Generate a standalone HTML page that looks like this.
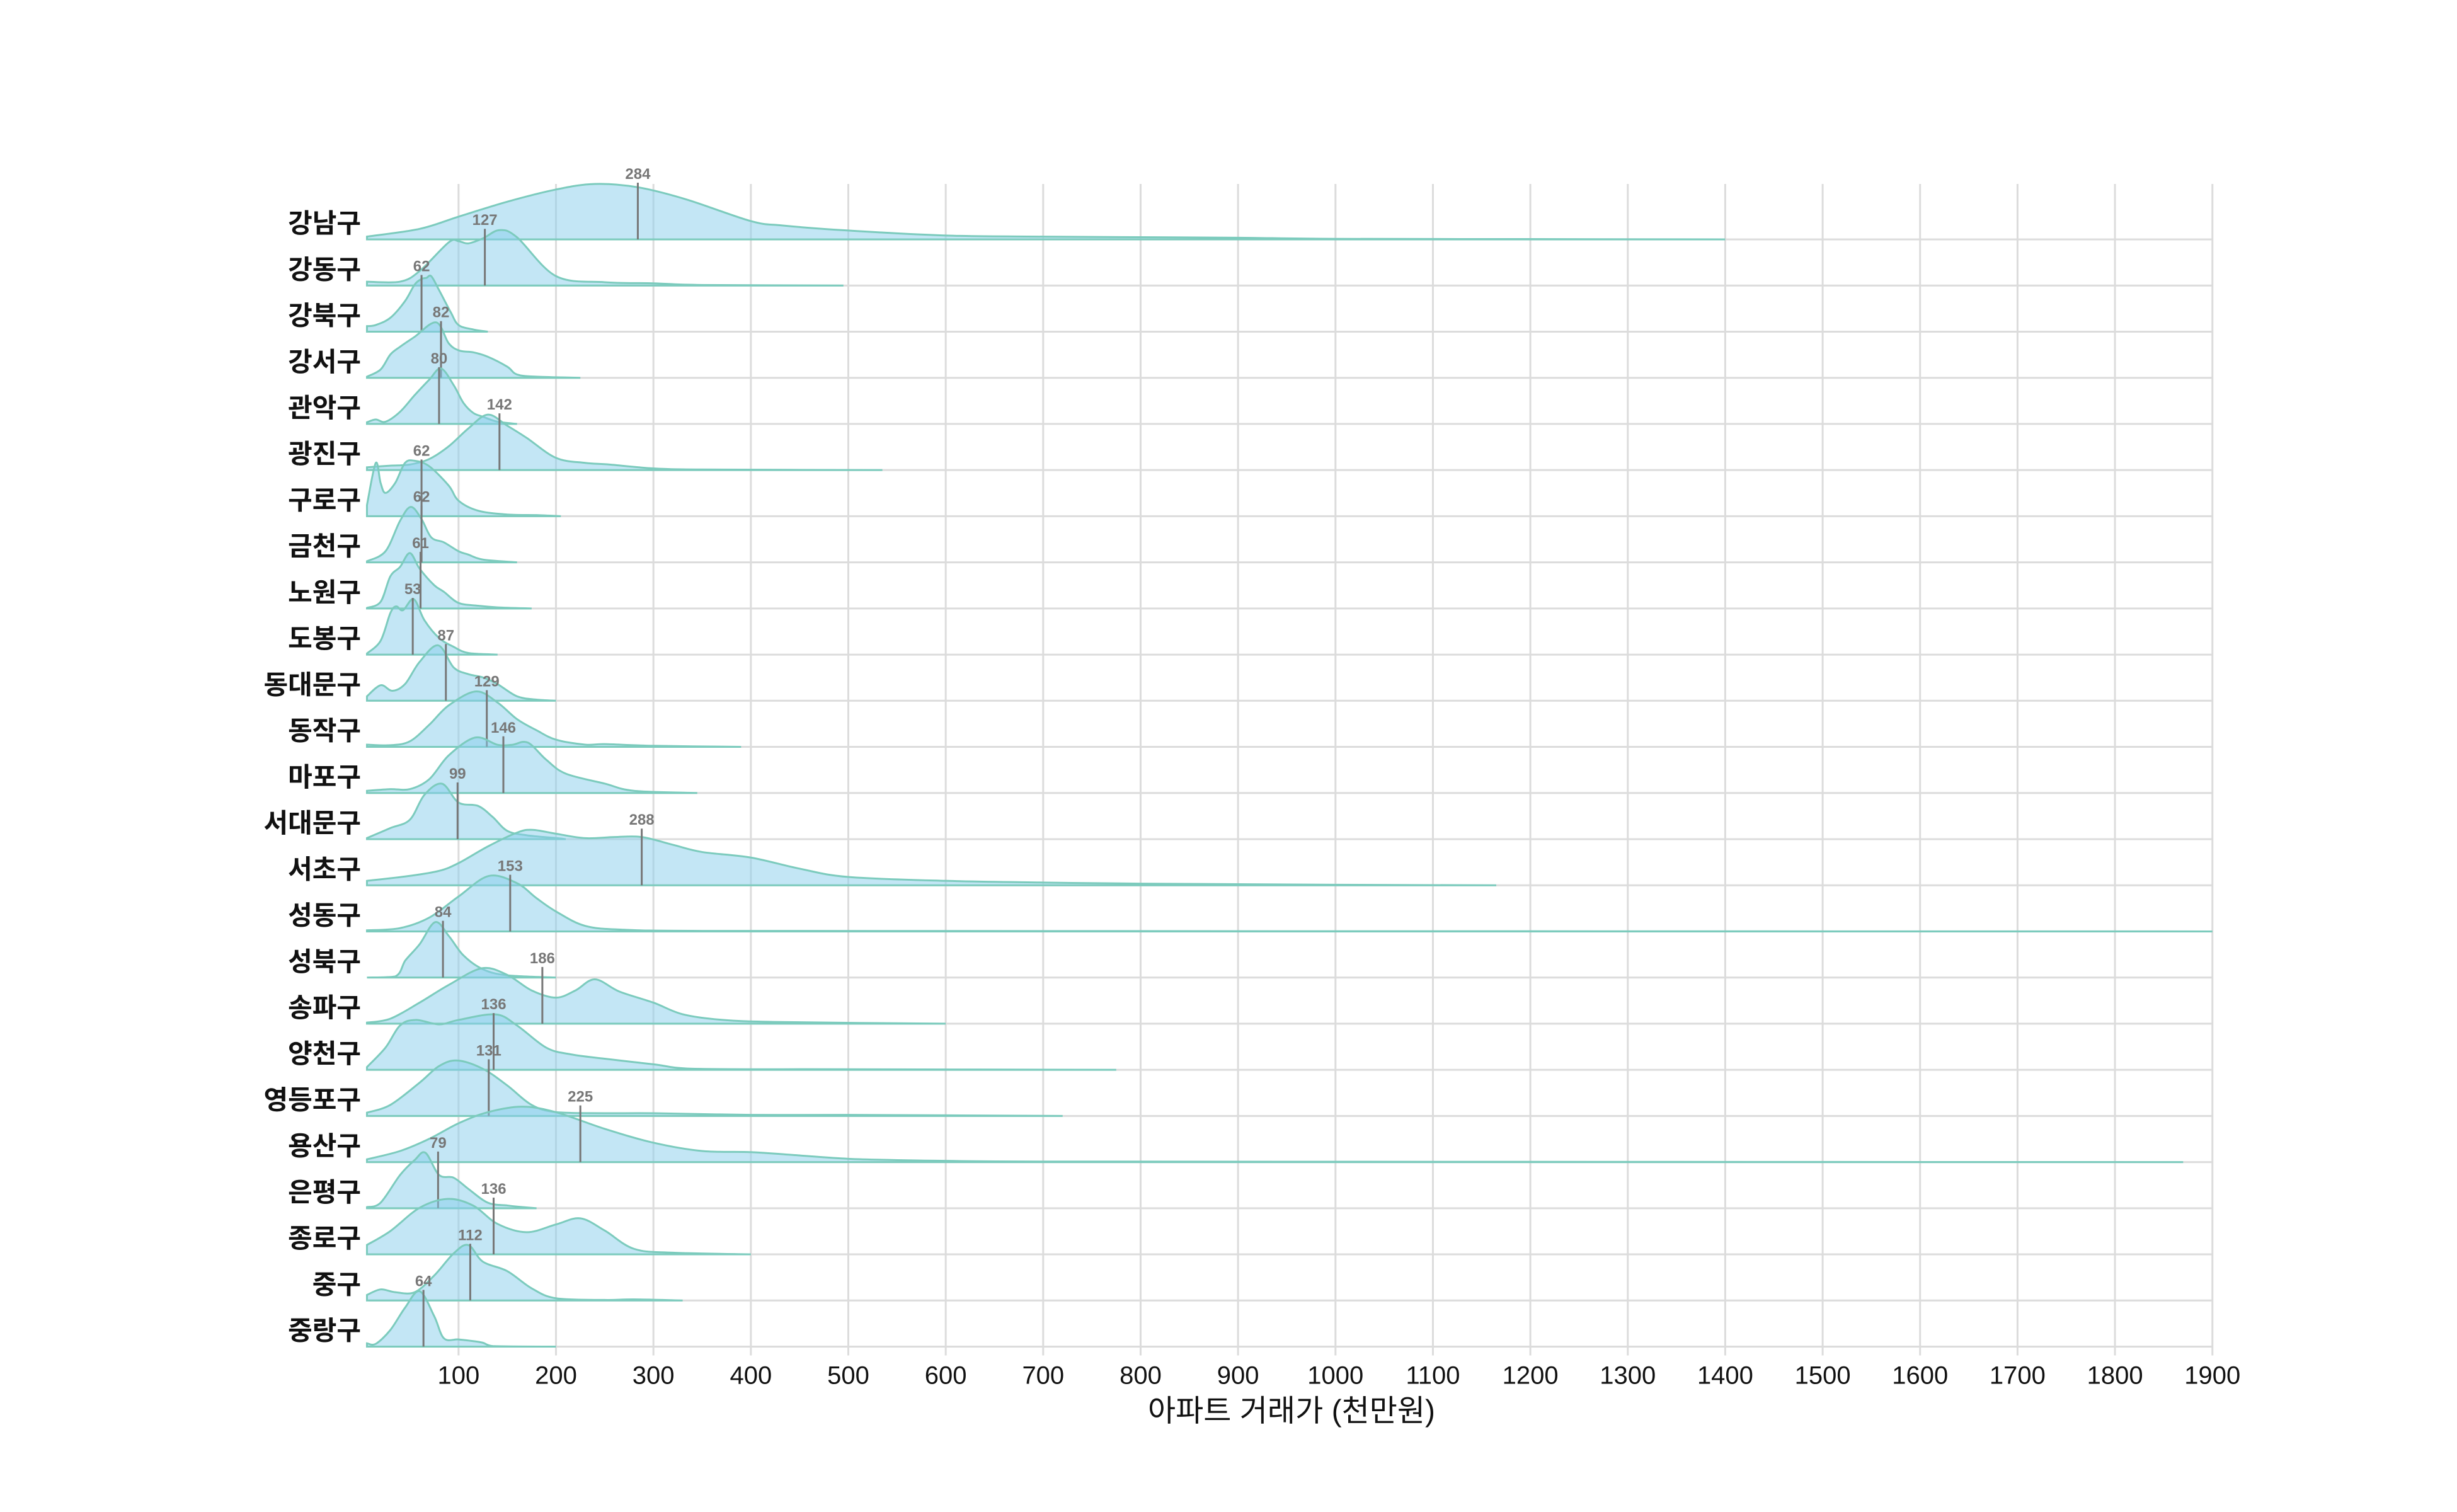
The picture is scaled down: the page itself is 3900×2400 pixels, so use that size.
<!DOCTYPE html>
<html><head><meta charset="utf-8">
<style>
html,body{margin:0;padding:0;background:#fff;}
svg{display:block;font-family:"Liberation Sans","Noto Sans CJK KR",sans-serif;}
</style></head>
<body>
<svg id="chart" width="3900" height="2400" viewBox="0 0 3900 2400" xmlns="http://www.w3.org/2000/svg">
<g id="grid"></g>
<g id="ridges"></g>
<g id="ylabels"></g>
<g id="xticks"></g>
<text x="2050" y="2243" font-size="48" text-anchor="middle" dominant-baseline="middle" fill="#111">아파트 거래가 (천만원)</text>
</svg>
<script>
const districts = ["강남구","강동구","강북구","강서구","관악구","광진구","구로구","금천구","노원구","도봉구","동대문구","동작구","마포구","서대문구","서초구","성동구","성북구","송파구","양천구","영등포구","용산구","은평구","종로구","중구","중랑구"];
const medians = [284,127,62,82,80,142,62,62,61,53,87,129,146,99,288,153,84,186,136,131,225,79,136,112,64];
const xTicks = [100,200,300,400,500,600,700,800,900,1000,1100,1200,1300,1400,1500,1600,1700,1800,1900];
// density curves: [value, relative height]
const d0 = [[6,0.05],[60,0.19],[100,0.41],[150,0.68],[200,0.9],[240,1.0],[284,0.94],[334,0.72],[400,0.33],[433,0.25],[500,0.16],[600,0.07],[700,0.05],[800,0.04],[900,0.03],[1000,0.01],[1200,0.005],[1400,0]];
const d1 = [[6,0.07],[40,0.07],[60,0.26],[90,0.78],[100,0.8],[110,0.76],[125,0.85],[142,1.0],[160,0.87],[200,0.17],[250,0.06],[300,0.04],[350,0.01],[495,0]];
const d2 = [[6,0.1],[15,0.12],[30,0.25],[45,0.55],[55,0.85],[62,0.95],[67,0.97],[72,1.0],[80,0.75],[92,0.35],[100,0.12],[115,0.04],[130,0]];
const d3 = [[6,0.02],[20,0.15],[30,0.42],[40,0.56],[55,0.74],[77,1.0],[90,0.62],[101,0.49],[115,0.46],[130,0.38],[150,0.2],[160,0.06],[180,0.02],[225,0]];
const d4 = [[6,0.03],[15,0.08],[25,0.04],[40,0.22],[55,0.52],[70,0.8],[82,1.0],[95,0.7],[105,0.38],[115,0.2],[125,0.13],[140,0.04],[160,0]];
const d5 = [[6,0.05],[30,0.08],[50,0.1],[70,0.2],[90,0.43],[110,0.75],[130,1.0],[150,0.8],[170,0.58],[200,0.22],[230,0.13],[255,0.1],[300,0.03],[350,0.01],[535,0]];
const d6 = [[6,0.2],[15,0.96],[20,0.6],[25,0.42],[35,0.6],[45,0.96],[55,1.0],[70,0.9],[90,0.55],[100,0.28],[120,0.1],[150,0.03],[180,0.02],[205,0]];
const d7 = [[6,0.02],[25,0.2],[40,0.75],[51,1.0],[62,0.78],[72,0.45],[85,0.36],[100,0.2],[110,0.14],[125,0.05],[160,0]];
const d8 = [[6,0.01],[20,0.12],[30,0.58],[40,0.75],[50,1.0],[60,0.72],[75,0.42],[85,0.3],[100,0.1],[120,0.05],[140,0.02],[175,0]];
const d9 = [[6,0.02],[20,0.25],[30,0.75],[36,0.87],[43,0.8],[54,1.0],[65,0.62],[80,0.3],[95,0.14],[110,0.03],[140,0]];
const d10 = [[6,0.08],[20,0.28],[32,0.18],[45,0.3],[60,0.7],[79,1.0],[95,0.6],[110,0.48],[125,0.42],[140,0.3],[160,0.08],[180,0.02],[200,0]];
const d11 = [[6,0.04],[30,0.03],[50,0.1],[70,0.4],[90,0.75],[118,1.0],[140,0.8],[160,0.5],[180,0.3],[200,0.13],[230,0.04],[250,0.05],[300,0.02],[390,0]];
const d12 = [[6,0.04],[30,0.07],[50,0.07],[70,0.25],[90,0.68],[117,1.0],[140,0.87],[155,0.87],[171,0.91],[190,0.6],[210,0.35],[250,0.17],[280,0.04],[345,0]];
const d13 = [[6,0.02],[30,0.2],[50,0.35],[65,0.8],[83,1.0],[100,0.66],[120,0.6],[135,0.4],[150,0.15],[170,0.07],[200,0.02],[210,0]];
const d14 = [[6,0.08],[50,0.17],[80,0.26],[100,0.4],[130,0.7],[160,0.95],[176,1.0],[200,0.93],[230,0.85],[260,0.87],[288,0.87],[320,0.73],[350,0.6],[400,0.5],[450,0.3],[500,0.15],[600,0.08],[700,0.05],[800,0.03],[1000,0.01],[1165,0]];
const d15 = [[6,0.02],[40,0.06],[70,0.25],[100,0.63],[131,1.0],[160,0.87],[180,0.6],[200,0.36],[230,0.1],[270,0.03],[350,0.01],[1000,0.004],[1900,0]];
const d16 = [[6,0],[35,0.02],[45,0.3],[60,0.6],[76,1.0],[90,0.75],[105,0.4],[125,0.15],[150,0.04],[200,0]];
const d17 = [[6,0.02],[30,0.09],[60,0.38],[90,0.7],[124,1.0],[150,0.88],[175,0.6],[200,0.47],[220,0.6],[240,0.8],[265,0.58],[300,0.38],[330,0.17],[370,0.07],[430,0.03],[600,0]];
const d18 = [[6,0.05],[25,0.4],[40,0.8],[56,0.9],[80,0.82],[100,0.9],[138,1.0],[160,0.8],[190,0.4],[215,0.28],[250,0.2],[300,0.1],[340,0.02],[500,0.01],[775,0]];
const d19 = [[6,0.06],[30,0.2],[60,0.6],[80,0.9],[99,1.0],[125,0.85],[150,0.55],[175,0.2],[200,0.07],[250,0.05],[300,0.05],[400,0.02],[500,0.02],[720,0]];
const d20 = [[6,0.05],[40,0.2],[70,0.42],[100,0.7],[130,0.9],[165,1.0],[200,0.9],[250,0.6],[300,0.35],[350,0.2],[400,0.18],[450,0.12],[500,0.06],[570,0.03],[700,0.01],[1870,0]];
const d21 = [[6,0.02],[20,0.1],[40,0.6],[55,0.87],[66,1.0],[80,0.6],[95,0.55],[110,0.35],[130,0.1],[150,0.05],[160,0.03],[180,0]];
const d22 = [[6,0.17],[30,0.42],[60,0.84],[89,1.0],[115,0.88],[140,0.55],[170,0.4],[200,0.54],[225,0.65],[250,0.43],[280,0.1],[320,0.03],[400,0]];
const d23 = [[6,0.1],[20,0.2],[35,0.15],[55,0.15],[75,0.45],[95,0.85],[110,1.0],[125,0.7],[150,0.53],[175,0.22],[200,0.04],[250,0.01],[280,0.02],[330,0]];
const d24 = [[6,0.06],[15,0.05],[30,0.3],[45,0.7],[60,1.0],[75,0.55],[85,0.15],[100,0.13],[115,0.1],[125,0.07],[135,0.01],[200,0]];
const densities = [d0,d1,d2,d3,d4,d5,d6,d7,d8,d9,d10,d11,d12,d13,d14,d15,d16,d17,d18,d19,d20,d21,d22,d23,d24];

const NS = "http://www.w3.org/2000/svg";
const X0 = 573.2, XS = 1.5466, Y0 = 380, ROW = 73.23, RH = 88;
const xScale = v => X0 + v * XS;
const yBase = i => Y0 + i * ROW;
const mk = (tag, parent) => { const e = document.createElementNS(NS, tag); parent.appendChild(e); return e; };

const grid = document.getElementById('grid');
const plotLeft = 585, plotRight = xScale(1900), gridTop = 292, gridBottom = yBase(districts.length - 1);
xTicks.forEach(t => {
  const l = mk('line', grid);
  
  
  l.setAttribute('x1', xScale(t)); l.setAttribute('x2', xScale(t));
  l.setAttribute('y1', gridTop); l.setAttribute('y2', gridBottom + 14);
  l.setAttribute('stroke', '#dcdcdc'); l.setAttribute('stroke-width', 3);
});
districts.forEach((d, i) => {
  const l = mk('line', grid);
  
  
  l.setAttribute('x1', plotLeft); l.setAttribute('x2', plotRight);
  l.setAttribute('y1', yBase(i)); l.setAttribute('y2', yBase(i));
  l.setAttribute('stroke', '#dcdcdc'); l.setAttribute('stroke-width', 3);
});

function pathFor(pts, base) {
  const P = pts.map(p => [xScale(p[0]), base - p[1] * RH]);
  let s = `M${P[0][0]},${base} L${P[0][0]},${P[0][1]}`;
  for (let k = 0; k < P.length - 1; k++) {
    const p0 = P[k - 1] || P[k], p1 = P[k], p2 = P[k + 1], p3 = P[k + 2] || P[k + 1];
    const c1x = p1[0] + (p2[0] - p0[0]) / 6, c1y = Math.min(base, p1[1] + (p2[1] - p0[1]) / 6);
    const c2x = p2[0] - (p3[0] - p1[0]) / 6, c2y = Math.min(base, p2[1] - (p3[1] - p1[1]) / 6);
    s += ` C${c1x},${c1y} ${Math.max(c1x, Math.min(c2x, p2[0]))},${c2y} ${p2[0]},${p2[1]}`;
  }
  s += ` L${P[P.length - 1][0]},${base} Z`;
  return s;
}

const ridges = document.getElementById('ridges');
const ylabels = document.getElementById('ylabels');
districts.forEach((name, i) => {
  const base = yBase(i);
  const g = mk('g', ridges);
  
  
  const p = mk('path', g);
  
  
  p.setAttribute('d', pathFor(densities[i], base));
  p.setAttribute('fill', 'rgba(135,206,235,0.5)');
  p.setAttribute('stroke', '#7ccbbd');
  p.setAttribute('stroke-width', 3);
  const m = mk('line', g);
  
  
  m.setAttribute('x1', xScale(medians[i])); m.setAttribute('x2', xScale(medians[i]));
  m.setAttribute('y1', base); m.setAttribute('y2', base - 90);
  m.setAttribute('stroke', '#777'); m.setAttribute('stroke-width', 3);
  const t = mk('text', g);
  
  
  t.setAttribute('x', xScale(medians[i])); t.setAttribute('y', base - 96);
  t.setAttribute('text-anchor', 'middle');
  t.setAttribute('font-size', 24); t.setAttribute('font-weight', 'bold'); t.setAttribute('fill', '#777');
  t.textContent = medians[i];
  const lb = mk('text', ylabels);
  
  
  lb.setAttribute('x', 573); lb.setAttribute('y', base - 22);
  lb.setAttribute('text-anchor', 'end'); lb.setAttribute('dominant-baseline', 'middle');
  lb.setAttribute('font-size', 42); lb.setAttribute('font-weight', 'bold'); lb.setAttribute('fill', '#111');
  lb.textContent = name;
});

const xt = document.getElementById('xticks');
xTicks.forEach(t => {
  const e = mk('text', xt);
  
  
  e.setAttribute('x', xScale(t)); e.setAttribute('y', 2186);
  e.setAttribute('text-anchor', 'middle'); e.setAttribute('dominant-baseline', 'middle');
  e.setAttribute('font-size', 40); e.setAttribute('fill', '#111');
  e.textContent = t;
});
</script>
</body></html>
